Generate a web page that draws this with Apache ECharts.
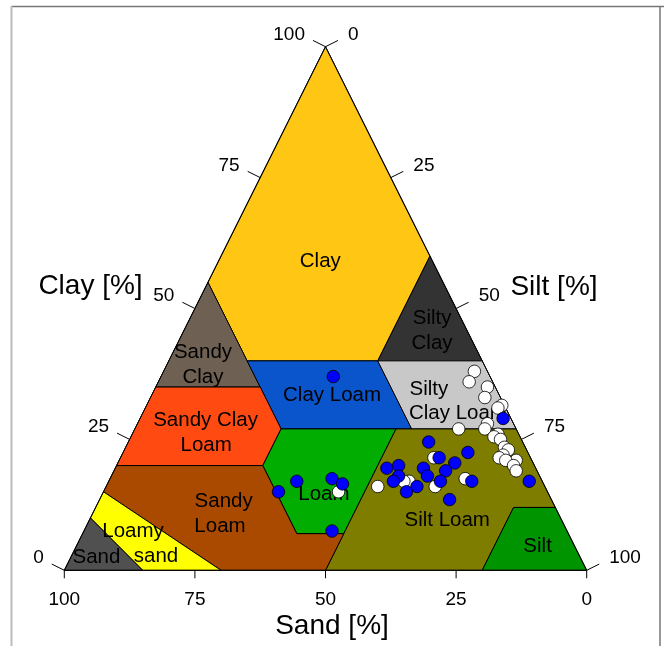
<!DOCTYPE html>
<html>
<head>
<meta charset="utf-8">
<script src="https://cdn.jsdelivr.net/npm/echarts@6/dist/echarts.min.js"></script>
<style>
  html, body { margin: 0; padding: 0; background: #fff; }
  #chart { width: 664px; height: 646px; }
</style>
</head>
<body>
<div id="chart"></div>
<script>
// USDA soil texture classes; every vertex is [sand, silt, clay] in percent
const classNames = ['Clay', 'Silty Clay', 'Sandy Clay', 'Clay Loam', 'Silty Clay Loam',
  'Sandy Clay Loam', 'Loam', 'Silt Loam', 'Silt', 'Sandy Loam', 'Loamy Sand', 'Sand'];

const classColors = ['#FFC614', '#333333', '#6E6052', '#0A55CC', '#C8C8C8',
  '#FF4B12', '#00AD00', '#7F7D00', '#009400', '#A94A00', '#FFFF00', '#505050'];

const classPolygons = [
  [[0, 0, 100], [45, 0, 55], [45, 15, 40], [20, 40, 40], [0, 40, 60]],
  [[0, 40, 60], [20, 40, 40], [0, 60, 40]],
  [[45, 0, 55], [65, 0, 35], [45, 20, 35]],
  [[45, 15, 40], [20, 40, 40], [20, 53, 27], [45, 28, 27]],
  [[20, 40, 40], [0, 60, 40], [0, 73, 27], [20, 53, 27]],
  [[65, 0, 35], [45, 20, 35], [45, 28, 27], [52, 28, 20], [80, 0, 20]],
  [[45, 28, 27], [23, 50, 27], [43, 50, 7], [52, 41, 7], [52, 28, 20]],
  [[23, 50, 27], [0, 73, 27], [0, 88, 12], [8, 80, 12], [20, 80, 0], [50, 50, 0], [43, 50, 7]],
  [[0, 88, 12], [8, 80, 12], [20, 80, 0], [0, 100, 0]],
  [[80, 0, 20], [52, 28, 20], [52, 41, 7], [43, 50, 7], [50, 50, 0], [70, 30, 0], [85, 0, 15]],
  [[85, 0, 15], [70, 30, 0], [85, 15, 0], [90, 0, 10]],
  [[90, 0, 10], [85, 15, 0], [100, 0, 0]]
];

// class names written inside the triangle, one entry per text line
const labelTexts = ['Clay', 'Silty', 'Clay', 'Sandy', 'Clay', 'Clay Loam', 'Silty', 'Clay Loam',
  'Sandy Clay', 'Loam', 'Loam', 'Sandy', 'Loam', 'Silt Loam', 'Loamy', 'sand', 'Sand', 'Silt'];
const labelAnchors = [
  [21.5, 19.5, 59], [5.5, 46.3, 48.2], [7.9, 48.7, 43.4], [52.6, 5.7, 41.7], [55, 8.1, 36.9],
  [32, 34.5, 33.5], [12.9, 52.5, 34.6], [9.7, 60.4, 29.9], [58.6, 12.7, 28.7], [60.9, 15.2, 23.9],
  [43, 42.4, 14.6], [62.9, 23.9, 13.2], [66, 25.6, 8.4], [21.9, 68.5, 9.6], [83.1, 9.4, 7.5],
  [81.1, 16.2, 2.7], [92.6, 4.9, 2.5], [7.1, 88.3, 4.6]
];

const tickValues = [0, 25, 50, 75, 100];

// measured samples, [sand, silt, clay]
const samplesWhite = [
  [2.5, 59.5, 38], [4.5, 59.5, 36], [1.5, 63.5, 35], [3, 64, 33], [0.5, 68, 31.5],
  [1.5, 67.5, 31], [5, 67, 28], [11, 62, 27], [6, 67, 27], [4, 70, 26], [5, 69.5, 25.5],
  [4, 71, 25], [4, 72.5, 23.5], [3.5, 73.5, 23], [5, 73, 22], [6, 72.5, 21.5], [3, 76, 21],
  [5, 74, 21], [4, 76, 20], [4, 77, 19], [14.5, 68, 17.5], [18.5, 60, 21.5], [25.5, 57.5, 17],
  [26.5, 56.5, 17], [21, 63, 16], [32, 52, 16], [40, 45, 15]
];

const samplesBlue = [
  [30, 33, 37], [47, 36, 17], [51.5, 33.5, 15], [40, 42.5, 17.5], [38.5, 45, 16.5],
  [45, 47.5, 7.5], [18, 57.5, 24.5], [11.5, 66, 22.5], [17.5, 61, 21.5], [15, 64.5, 20.5],
  [28.5, 52, 19.5], [26, 54, 20], [21.5, 59, 19.5], [17.5, 63.5, 19], [27, 55, 18],
  [21.5, 60.5, 18], [28.5, 54.5, 17], [19.5, 63.5, 17], [13.5, 69.5, 17], [24.5, 59.5, 16],
  [27, 58, 15], [19.5, 67, 13.5], [1.5, 69.5, 29], [2.5, 80.5, 17]
];

const FONT = '"Liberation Sans", Arial, Helvetica, sans-serif';

// ternary [sand, silt, clay] -> plane [x, y]; sand 100 at the left corner, clay 100 at the apex
function toXY(p) {
  return [p[1] + p[2] / 2, p[2]];
}

function unitNormal(a, b) {
  const dx = b[0] - a[0], dy = b[1] - a[1];
  const len = Math.hypot(dx, dy);
  return [dy / len, -dx / len];
}

function renderClass(params, api) {
  const i = params.dataIndex;
  const pts = classPolygons[i].map(p => api.coord(toXY(p)));
  return {
    type: 'polygon',
    shape: { points: pts },
    style: { fill: classColors[i], stroke: '#000', lineWidth: 1 }
  };
}

function renderLabel(params, api) {
  const i = params.dataIndex;
  const pos = api.coord(toXY(labelAnchors[i]));
  return {
    type: 'text',
    x: pos[0], y: pos[1],
    style: {
      text: labelTexts[i], fill: '#000', fontSize: 20.5, fontFamily: FONT,
      align: 'center', verticalAlign: 'middle'
    }
  };
}

function renderFrame(params, api) {
  const BL = api.coord(toXY([100, 0, 0]));
  const T = api.coord(toXY([0, 0, 100]));
  const BR = api.coord(toXY([0, 100, 0]));
  const children = [{
    type: 'polygon', shape: { points: [BL, T, BR] },
    style: { fill: 'none', stroke: '#000', lineWidth: 1 }
  }];
  const nL = unitNormal(BL, T);
  const nR = unitNormal(T, BR);
  const sideLen = 14, baseLen = 8;
  const tick = (p, e) => ({
    type: 'line', shape: { x1: p[0], y1: p[1], x2: e[0], y2: e[1] },
    style: { stroke: '#000', lineWidth: 1 }
  });
  const label = (txt, x, y, align) => ({
    type: 'text', x: x, y: y,
    style: { text: String(txt), fill: '#000', fontSize: 19, fontFamily: FONT, align: align, verticalAlign: 'middle' }
  });
  tickValues.forEach(v => {
    // clay, left edge
    const p = api.coord(toXY([100 - v, 0, v]));
    const e = [p[0] + nL[0] * sideLen, p[1] + nL[1] * sideLen];
    children.push(tick(p, e), label(v, e[0] - 8, e[1] - 6, 'right'));
    // silt, right edge
    const q = api.coord(toXY([0, v, 100 - v]));
    const f = [q[0] + nR[0] * sideLen, q[1] + nR[1] * sideLen];
    children.push(tick(q, f), label(v, f[0] + 10, f[1] - 6, 'left'));
    // sand, base
    const r = api.coord(toXY([v, 100 - v, 0]));
    const g = [r[0], r[1] + baseLen];
    children.push(tick(r, g), label(v, g[0], g[1] + 21, 'center'));
  });
  return { type: 'group', children: children };
}

const chart = echarts.init(document.getElementById('chart'), null, { renderer: 'canvas' });

chart.setOption({
  animation: false,
  backgroundColor: '#fff',
  grid: { left: 64.3, right: 77.3, top: 46.7, bottom: 75.7 },
  xAxis: { type: 'value', min: 0, max: 100, show: false },
  yAxis: { type: 'value', min: 0, max: 100, show: false },
  graphic: [
    { type: 'line', shape: { x1: 11, y1: 6.5, x2: 664, y2: 6.5 }, style: { stroke: '#777', lineWidth: 1.5 } },
    { type: 'line', shape: { x1: 11.5, y1: 6, x2: 11.5, y2: 646 }, style: { stroke: '#bbb', lineWidth: 2 } },
    { type: 'line', shape: { x1: 660, y1: 6, x2: 660, y2: 646 }, style: { stroke: '#777', lineWidth: 1.5 } },
    { type: 'text', x: 90.5, y: 286, style: { text: 'Clay [%]', fill: '#000', fontSize: 28, fontFamily: FONT, align: 'center', verticalAlign: 'middle' } },
    { type: 'text', x: 554, y: 287, style: { text: 'Silt [%]', fill: '#000', fontSize: 28, fontFamily: FONT, align: 'center', verticalAlign: 'middle' } },
    { type: 'text', x: 332, y: 626, style: { text: 'Sand [%]', fill: '#000', fontSize: 28, fontFamily: FONT, align: 'center', verticalAlign: 'middle' } }
  ],
  series: [
    {
      type: 'custom', name: 'classes', coordinateSystem: 'cartesian2d',
      data: classNames.map((n, i) => ({ name: n, value: [i, 0] })),
      renderItem: renderClass, clip: false, silent: true, z: 1
    },
    {
      type: 'custom', name: 'class labels', coordinateSystem: 'cartesian2d',
      data: labelTexts.map((t, i) => [i, 0]),
      renderItem: renderLabel, clip: false, silent: true, z: 2
    },
    {
      type: 'custom', name: 'frame', coordinateSystem: 'cartesian2d',
      data: [[0, 0]],
      renderItem: renderFrame, clip: false, silent: true, z: 3
    },
    {
      type: 'scatter', name: 'white samples',
      data: samplesWhite.map(toXY),
      symbol: 'circle', symbolSize: 12.5,
      itemStyle: { color: '#fff', borderColor: '#000', borderWidth: 0.8, opacity: 1 },
      z: 4, silent: true
    },
    {
      type: 'scatter', name: 'blue samples',
      data: samplesBlue.map(toXY),
      symbol: 'circle', symbolSize: 12.5,
      itemStyle: { color: '#0000FF', borderColor: '#000', borderWidth: 0.8, opacity: 1 },
      z: 5, silent: true
    }
  ]
});
</script>
</body>
</html>
